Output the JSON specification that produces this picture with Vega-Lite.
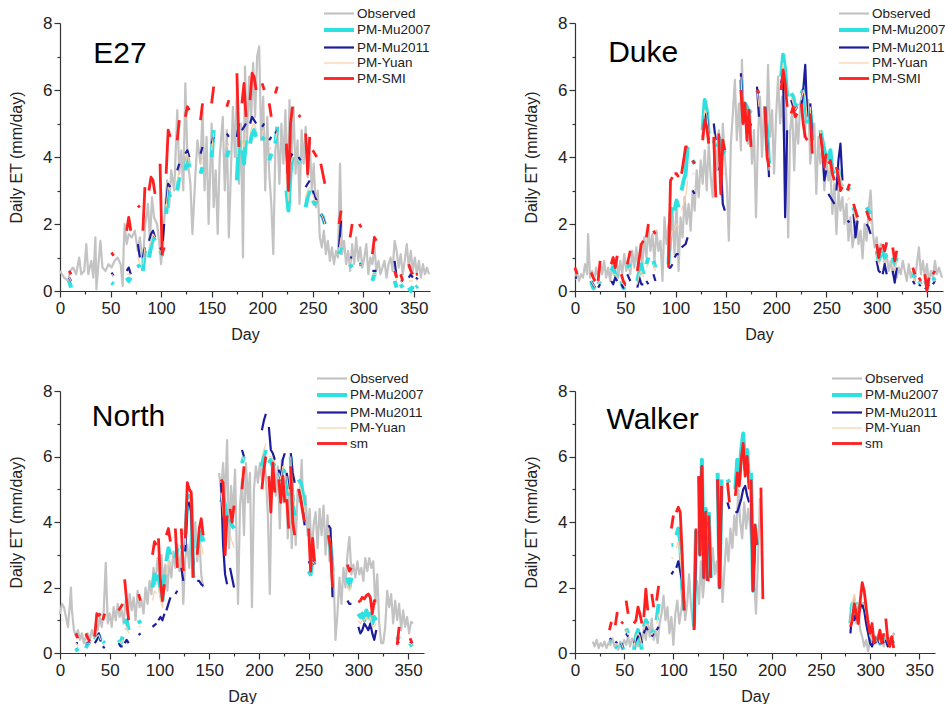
{
"$schema": "https://vega.github.io/schema/vega-lite/v6.json",
"background": "white",
"padding": {"left": 8, "top": 4, "right": 0, "bottom": 0},
"columns": 2,
"spacing": {"row": 27, "column": 92},
"config": {
  "view": {"stroke": null},
  "font": "Liberation Sans",
  "axis": {"grid": false, "domainColor": "#333333", "tickColor": "#333333", "labelColor": "#222222", "titleColor": "#222222", "labelFont": "Liberation Sans", "titleFont": "Liberation Sans", "labelFontSize": 17, "titleFontSize": 16, "titleFontWeight": "normal", "tickSize": 6, "domainWidth": 1.2, "tickWidth": 1.2},
  "axisX": {"labelPadding": 3, "titlePadding": 10, "labelFlush": false},
  "axisY": {"labelPadding": 2, "titlePadding": 18},
  "legend": {"symbolType": "M-1,0H3", "symbolSize": 225, "labelFontSize": 13.5, "labelFont": "Liberation Sans", "labelColor": "#222222", "labelOffset": 16, "padding": 0, "rowPadding": 0}
},
"resolve": {"scale": {"color": "independent", "strokeWidth": "independent"}, "legend": {"color": "independent", "strokeWidth": "independent"}},
"concat": [
{
 "width": 370, "height": 268,
 "resolve": {"axis": {"x": "independent", "y": "independent"}},
 "layer": [
  {
   "data": {"values": [{"d":0,"o":0.6},{"d":2,"o":0.5},{"d":4,"o":0.4},{"d":6,"o":0.35},{"d":8,"o":0.3},{"d":10,"o":0.6},{"d":13,"o":0.7},{"d":16,"o":0.5},{"d":19,"o":1.0},{"d":21,"o":0.5},{"d":24,"o":0.6},{"d":26,"o":1.4},{"d":28,"o":0.5},{"d":31,"o":0.9},{"d":33,"o":0.4},{"d":35,"o":1.6},{"d":36,"o":0.05},{"d":38,"o":0.8},{"d":40,"o":1.5},{"d":42,"o":0.7},{"d":45,"o":0.6},{"d":48,"o":0.8},{"d":51,"o":0.7},{"d":54,"o":0.9},{"d":57,"o":1.0},{"d":60,"o":0.8},{"d":62,"o":0.15},{"d":63,"o":1.3},{"d":64,"o":2.0},{"d":66,"o":1.4},{"d":68,"o":1.7},{"d":71,"o":1.6},{"d":74,"o":1.8},{"d":77,"o":1.2},{"d":79,"o":1.6},{"d":82,"o":0.8},{"d":84,"o":1.9},{"d":87,"o":2.6},{"d":89,"o":1.5},{"d":91,"o":2.8},{"d":93,"o":2.2},{"d":96,"o":2.0},{"d":98,"o":1.5},{"d":100,"o":0.8},{"d":102,"o":1.6},{"d":104,"o":2.5},{"d":106,"o":3.3},{"d":108,"o":2.5},{"d":110,"o":3.6},{"d":113,"o":3.0},{"d":116,"o":5.4},{"d":118,"o":3.5},{"d":120,"o":4.2},{"d":122,"o":3.0},{"d":124,"o":6.2},{"d":126,"o":4.0},{"d":129,"o":3.2},{"d":131,"o":1.7},{"d":134,"o":3.5},{"d":136,"o":4.5},{"d":139,"o":3.8},{"d":141,"o":5.4},{"d":143,"o":3.0},{"d":145,"o":4.6},{"d":147,"o":2.0},{"d":150,"o":5.0},{"d":152,"o":2.5},{"d":154,"o":3.6},{"d":156,"o":1.7},{"d":158,"o":4.0},{"d":161,"o":5.2},{"d":163,"o":3.0},{"d":165,"o":4.8},{"d":167,"o":1.6},{"d":169,"o":3.5},{"d":171,"o":5.5},{"d":173,"o":4.0},{"d":175,"o":6.0},{"d":177,"o":3.2},{"d":179,"o":5.0},{"d":181,"o":1.0},{"d":183,"o":6.7},{"d":185,"o":4.5},{"d":187,"o":6.4},{"d":189,"o":5.0},{"d":191,"o":6.8},{"d":193,"o":5.2},{"d":195,"o":7.0},{"d":197,"o":7.3},{"d":199,"o":4.5},{"d":201,"o":5.8},{"d":203,"o":3.0},{"d":205,"o":5.2},{"d":207,"o":3.5},{"d":209,"o":2.6},{"d":211,"o":1.1},{"d":213,"o":4.2},{"d":215,"o":4.8},{"d":217,"o":3.2},{"d":219,"o":5.0},{"d":221,"o":3.8},{"d":223,"o":5.4},{"d":225,"o":2.8},{"d":227,"o":5.7},{"d":229,"o":4.0},{"d":231,"o":5.5},{"d":233,"o":3.5},{"d":235,"o":4.5},{"d":237,"o":2.6},{"d":239,"o":4.8},{"d":241,"o":3.8},{"d":243,"o":4.9},{"d":245,"o":3.4},{"d":247,"o":4.5},{"d":249,"o":3.0},{"d":251,"o":3.8},{"d":253,"o":2.5},{"d":255,"o":3.0},{"d":257,"o":1.6},{"d":259,"o":1.3},{"d":261,"o":1.8},{"d":263,"o":1.1},{"d":265,"o":1.5},{"d":267,"o":0.9},{"d":269,"o":1.3},{"d":271,"o":0.8},{"d":273,"o":1.2},{"d":275,"o":1.0},{"d":277,"o":3.8},{"d":279,"o":1.1},{"d":281,"o":1.5},{"d":283,"o":0.8},{"d":285,"o":1.2},{"d":287,"o":0.6},{"d":289,"o":1.4},{"d":291,"o":0.8},{"d":293,"o":1.6},{"d":295,"o":0.9},{"d":297,"o":1.3},{"d":299,"o":0.7},{"d":301,"o":1.0},{"d":303,"o":1.4},{"d":305,"o":0.5},{"d":307,"o":1.0},{"d":309,"o":0.8},{"d":311,"o":1.3},{"d":313,"o":0.6},{"d":315,"o":0.9},{"d":317,"o":0.5},{"d":319,"o":0.7},{"d":321,"o":0.9},{"d":323,"o":0.4},{"d":325,"o":0.8},{"d":327,"o":1.0},{"d":329,"o":0.6},{"d":331,"o":1.5},{"d":333,"o":1.2},{"d":335,"o":0.7},{"d":337,"o":1.1},{"d":339,"o":0.5},{"d":341,"o":0.9},{"d":343,"o":1.4},{"d":345,"o":0.7},{"d":347,"o":1.2},{"d":349,"o":0.6},{"d":351,"o":1.0},{"d":353,"o":0.5},{"d":355,"o":0.9},{"d":357,"o":0.4},{"d":359,"o":0.8},{"d":361,"o":0.5},{"d":363,"o":0.7},{"d":365,"o":0.5}]},
   "mark": {"type": "line", "strokeJoin": "round", "invalid": "break-paths-show-domains"},
   "encoding": {
    "x": {"field": "d", "type": "quantitative", "scale": {"domain": [0, 366], "nice": false}, "axis": {"title": "Day", "orient": "bottom", "values": [0,50,100,150,200,250,300,350]}},
    "y": {"field": "o", "type": "quantitative", "scale": {"domain": [0, 8], "nice": false}, "axis": {"title": "Daily ET (mm/day)", "orient": "left", "values": [0,2,4,6,8]}},
    "color": {"datum": "o", "type": "nominal", "scale": {"domain": ["o","a","b","c","s"], "range": ["#c3c3c3","#2fe0e0","#1c1c9c","#f8cfa8","#ff1f1f"]}, "legend": {"title": null, "orient": "none", "legendX": 262, "legendY": -18.5, "labelExpr": "{'o':'Observed','a':'PM-Mu2007','b':'PM-Mu2011','c':'PM-Yuan','s':'PM-SMI'}[datum.value]"}},
    "strokeWidth": {"datum": "o", "type": "nominal", "scale": {"type": "ordinal", "domain": ["o","a","b","c","s"], "range": [2.2, 4, 2.2, 1.2, 2.8]}, "legend": {"title": null, "orient": "none", "legendX": 262, "legendY": -18.5, "labelExpr": "{'o':'Observed','a':'PM-Mu2007','b':'PM-Mu2011','c':'PM-Yuan','s':'PM-SMI'}[datum.value]"}}
   }
  },
  {
   "data": {"values": [
    {"g":1,"d":9,"a":0.3,"b":0.4,"c":0.4,"s":0.6},{"g":1,"d":11,"a":0.1,"b":0.3,"c":0.3,"s":0.5},
    {"g":2,"d":51,"a":0.25,"b":0.55,"c":0.5,"s":1.15},{"g":2,"d":53,"a":0.2,"b":0.45,"c":0.45,"s":1.05},
    {"g":3,"d":66,"a":0.4,"b":0.6,"c":0.5,"s":1.8},{"g":3,"d":68,"a":0.3,"b":0.7,"c":0.5,"s":2.2},{"g":3,"d":70,"a":0.4,"b":0.5,"c":0.5,"s":1.8},
    {"g":4,"d":77,"a":0.8,"b":1.4,"c":1.0,"s":2.55},{"g":4,"d":79,"a":0.7,"b":1.0,"c":0.8,"s":2.5},
    {"g":5,"d":82,"a":0.6,"b":1.0,"c":0.8,"s":1.8},{"g":5,"d":84,"a":1.2,"b":1.3,"c":1.3,"s":3.1},
    {"g":6,"d":88,"a":1.0,"b":1.5,"c":1.3,"s":3.0},{"g":6,"d":90,"a":1.3,"b":1.7,"c":1.5,"s":3.4},{"g":6,"d":92,"a":1.6,"b":1.8,"c":1.7,"s":3.3},{"g":6,"d":94,"a":1.5,"b":1.6,"c":1.6,"s":2.9},
    {"g":7,"d":99,"a":1.2,"b":1.3,"c":1.2,"s":3.8},{"g":7,"d":101,"a":1.1,"b":1.2,"c":1.1,"s":1.1},{"g":7,"d":103,"a":1.1,"b":2.0,"c":1.5,"s":1.3},
    {"g":8,"d":105,"a":2.3,"b":2.6,"c":2.5,"s":3.5},{"g":8,"d":107,"a":3.0,"b":3.2,"c":3.1,"s":4.8},{"g":8,"d":109,"a":2.8,"b":3.1,"c":3.0,"s":4.6},
    {"g":9,"d":116,"a":3.0,"b":3.6,"c":3.3,"s":4.5},{"g":9,"d":118,"a":3.4,"b":3.8,"c":3.6,"s":5.1},
    {"g":10,"d":124,"a":3.6,"b":4.1,"c":3.8,"s":5.2},{"g":10,"d":126,"a":4.0,"b":4.2,"c":4.1,"s":5.5},{"g":10,"d":128,"a":3.7,"b":4.0,"c":3.8,"s":5.4},
    {"g":11,"d":139,"a":3.5,"b":4.1,"c":3.8,"s":5.1},{"g":11,"d":141,"a":3.7,"b":4.3,"c":4.0,"s":5.6},
    {"g":12,"d":150,"a":4.0,"b":4.4,"c":4.2,"s":5.6},{"g":12,"d":152,"a":4.8,"b":4.6,"c":4.7,"s":6.1},
    {"g":13,"d":165,"a":4.0,"b":4.7,"c":4.3,"s":5.5},{"g":13,"d":167,"a":4.2,"b":4.6,"c":4.4,"s":5.7},
    {"g":14,"d":175,"a":3.3,"b":4.6,"c":4.0,"s":6.5},{"g":14,"d":177,"a":4.5,"b":5.0,"c":4.7,"s":4.3},
    {"g":15,"d":180,"a":4.2,"b":4.8,"c":4.5,"s":5.6},{"g":15,"d":182,"a":3.8,"b":4.9,"c":4.3,"s":6.2},{"g":15,"d":184,"a":4.5,"b":5.0,"c":4.7,"s":5.2},
    {"g":16,"d":188,"a":4.4,"b":5.0,"c":4.7,"s":5.7},{"g":16,"d":190,"a":4.7,"b":5.2,"c":4.9,"s":6.5},{"g":16,"d":192,"a":4.8,"b":5.1,"c":5.0,"s":6.4},{"g":16,"d":194,"a":4.6,"b":5.0,"c":4.8,"s":6.0},
    {"g":17,"d":200,"a":4.5,"b":4.9,"c":4.7,"s":6.2},{"g":17,"d":202,"a":4.6,"b":5.0,"c":4.8,"s":6.0},
    {"g":18,"d":207,"a":3.9,"b":4.5,"c":4.2,"s":5.6},{"g":18,"d":209,"a":4.1,"b":4.6,"c":4.3,"s":5.2},
    {"g":19,"d":213,"a":4.4,"b":4.7,"c":4.5,"s":5.9},{"g":19,"d":215,"a":4.9,"b":4.8,"c":4.8,"s":6.1},
    {"g":20,"d":224,"a":3.0,"b":4.3,"c":3.5,"s":4.4},{"g":20,"d":226,"a":2.4,"b":3.0,"c":2.7,"s":3.0},{"g":20,"d":228,"a":3.5,"b":4.0,"c":3.8,"s":5.0},{"g":20,"d":230,"a":4.0,"b":4.1,"c":4.0,"s":5.5},
    {"g":21,"d":236,"a":3.9,"b":4.0,"c":3.9,"s":5.25},{"g":21,"d":238,"a":3.8,"b":3.9,"c":3.8,"s":5.2},
    {"g":22,"d":243,"a":2.5,"b":3.1,"c":2.8,"s":4.7},{"g":22,"d":245,"a":2.8,"b":3.2,"c":3.0,"s":3.5},{"g":22,"d":247,"a":3.0,"b":3.3,"c":3.1,"s":4.6},
    {"g":23,"d":250,"a":2.7,"b":3.0,"c":2.9,"s":4.2},{"g":23,"d":252,"a":2.6,"b":2.8,"c":2.7,"s":4.1},{"g":23,"d":254,"a":2.7,"b":2.7,"c":2.7,"s":4.0},
    {"g":24,"d":258,"a":2.3,"b":2.3,"c":2.3,"s":3.8},{"g":24,"d":260,"a":2.2,"b":2.2,"c":2.2,"s":3.5},{"g":24,"d":262,"a":2.0,"b":2.0,"c":2.0,"s":3.2},
    {"g":25,"d":276,"a":1.1,"b":1.3,"c":1.2,"s":2.0},{"g":25,"d":278,"a":1.3,"b":2.1,"c":1.6,"s":2.4},
    {"g":26,"d":287,"a":0.8,"b":1.0,"c":0.9,"s":1.6},{"g":26,"d":289,"a":0.7,"b":1.0,"c":0.8,"s":2.0},
    {"g":27,"d":296,"a":0.8,"b":0.8,"c":0.8,"s":2.0},{"g":27,"d":298,"a":0.8,"b":0.8,"c":0.8,"s":1.9},
    {"g":28,"d":309,"a":0.3,"b":0.6,"c":0.5,"s":1.1},{"g":28,"d":311,"a":0.5,"b":0.6,"c":0.5,"s":1.6},{"g":28,"d":313,"a":0.5,"b":0.6,"c":0.5,"s":1.5},
    {"g":29,"d":331,"a":0.3,"b":0.9,"c":0.5,"s":0.6},{"g":29,"d":333,"a":0.1,"b":0.4,"c":0.3,"s":0.4},
    {"g":30,"d":337,"a":0.2,"b":0.3,"c":0.3,"s":0.5},{"g":30,"d":339,"a":0.1,"b":0.3,"c":0.2,"s":0.3},
    {"g":31,"d":345,"a":0.1,"b":0.4,"c":0.3,"s":0.8},{"g":31,"d":347,"a":0.0,"b":0.5,"c":0.3,"s":0.6},{"g":31,"d":349,"a":0.15,"b":0.4,"c":0.3,"s":0.5},
    {"g":32,"d":352,"a":0.1,"b":0.4,"c":0.3,"s":0.5},{"g":32,"d":354,"a":0.15,"b":0.35,"c":0.3,"s":0.5}
   ]},
   "transform": [{"fold": ["a","b","c","s"], "as": ["k","v"]}],
   "mark": {"type": "line", "strokeJoin": "round", "invalid": "break-paths-show-domains"},
   "encoding": {
    "x": {"field": "d", "type": "quantitative", "axis": null},
    "y": {"field": "v", "type": "quantitative", "axis": null},
    "detail": {"field": "g", "type": "nominal"},
    "color": {"field": "k", "type": "nominal", "scale": {"domain": ["o","a","b","c","s"], "range": ["#c3c3c3","#2fe0e0","#1c1c9c","#f8cfa8","#ff1f1f"]}, "legend": {"title": null, "orient": "none", "legendX": 262, "legendY": -18.5, "labelExpr": "{'o':'Observed','a':'PM-Mu2007','b':'PM-Mu2011','c':'PM-Yuan','s':'PM-SMI'}[datum.value]"}},
    "strokeWidth": {"field": "k", "type": "nominal", "scale": {"type": "ordinal", "domain": ["o","a","b","c","s"], "range": [2.2, 4, 2.2, 1.2, 2.8]}, "legend": {"title": null, "orient": "none", "legendX": 262, "legendY": -18.5, "labelExpr": "{'o':'Observed','a':'PM-Mu2007','b':'PM-Mu2011','c':'PM-Yuan','s':'PM-SMI'}[datum.value]"}}
   }
  },
  {
   "data": {"values": [{"t": "E27", "x": 33, "y": 6.8}]},
   "mark": {"type": "text", "align": "left", "baseline": "alphabetic", "fontSize": 30, "font": "Liberation Sans", "color": "#000000"},
   "encoding": {
    "x": {"field": "x", "type": "quantitative", "axis": {"orient": "bottom", "values": [25,75,125,175,225,275,325], "labels": false, "domain": false, "title": null, "tickSize": 3}},
    "y": {"field": "y", "type": "quantitative", "axis": {"orient": "left", "values": [1,3,5,7], "labels": false, "domain": false, "title": null, "tickSize": 3}},
    "text": {"field": "t"}
   }
  }
 ]
},
{
 "width": 368, "height": 268,
 "resolve": {"axis": {"x": "independent", "y": "independent"}},
 "layer": [
  {
   "data": {"values": [{"d":0,"o":0.35},{"d":2,"o":0.6},{"d":4,"o":0.3},{"d":6,"o":0.5},{"d":8,"o":0.4},{"d":10,"o":0.8},{"d":12,"o":0.5},{"d":13,"o":1.7},{"d":15,"o":0.4},{"d":17,"o":0.6},{"d":19,"o":0.3},{"d":21,"o":0.7},{"d":23,"o":0.4},{"d":25,"o":0.8},{"d":27,"o":0.5},{"d":29,"o":0.9},{"d":31,"o":0.4},{"d":33,"o":0.7},{"d":35,"o":0.3},{"d":37,"o":0.8},{"d":39,"o":0.5},{"d":41,"o":1.0},{"d":43,"o":0.4},{"d":45,"o":0.9},{"d":47,"o":0.5},{"d":49,"o":1.1},{"d":51,"o":0.6},{"d":53,"o":0.9},{"d":55,"o":0.5},{"d":57,"o":1.2},{"d":59,"o":0.7},{"d":61,"o":1.3},{"d":63,"o":0.6},{"d":65,"o":1.4},{"d":67,"o":0.8},{"d":69,"o":1.6},{"d":71,"o":1.0},{"d":73,"o":1.9},{"d":75,"o":1.2},{"d":77,"o":1.7},{"d":79,"o":0.9},{"d":81,"o":1.8},{"d":83,"o":1.2},{"d":85,"o":1.5},{"d":87,"o":0.3},{"d":89,"o":2.2},{"d":91,"o":1.4},{"d":93,"o":2.0},{"d":95,"o":1.2},{"d":97,"o":2.4},{"d":99,"o":1.1},{"d":101,"o":2.6},{"d":103,"o":0.6},{"d":105,"o":2.2},{"d":107,"o":1.6},{"d":109,"o":2.8},{"d":111,"o":2.0},{"d":113,"o":2.6},{"d":115,"o":1.8},{"d":117,"o":3.0},{"d":119,"o":2.4},{"d":121,"o":3.6},{"d":123,"o":2.8},{"d":125,"o":3.9},{"d":127,"o":3.2},{"d":129,"o":4.2},{"d":131,"o":3.0},{"d":133,"o":4.4},{"d":135,"o":3.4},{"d":137,"o":2.8},{"d":139,"o":4.5},{"d":141,"o":3.6},{"d":143,"o":4.8},{"d":145,"o":3.0},{"d":147,"o":5.0},{"d":149,"o":4.0},{"d":151,"o":3.2},{"d":153,"o":1.5},{"d":155,"o":4.4},{"d":157,"o":5.3},{"d":159,"o":6.3},{"d":161,"o":4.5},{"d":163,"o":5.6},{"d":165,"o":4.2},{"d":166,"o":6.9},{"d":168,"o":5.0},{"d":170,"o":5.6},{"d":172,"o":4.4},{"d":174,"o":5.4},{"d":176,"o":3.8},{"d":178,"o":4.8},{"d":180,"o":2.2},{"d":182,"o":4.6},{"d":184,"o":5.8},{"d":186,"o":4.0},{"d":188,"o":5.5},{"d":190,"o":4.2},{"d":192,"o":6.75},{"d":194,"o":4.6},{"d":196,"o":5.4},{"d":198,"o":3.5},{"d":200,"o":5.2},{"d":202,"o":6.4},{"d":204,"o":5.0},{"d":206,"o":5.8},{"d":208,"o":4.4},{"d":210,"o":5.5},{"d":212,"o":1.6},{"d":214,"o":4.8},{"d":216,"o":5.4},{"d":218,"o":3.6},{"d":220,"o":5.2},{"d":222,"o":4.4},{"d":224,"o":5.6},{"d":226,"o":5.9},{"d":228,"o":4.6},{"d":230,"o":5.2},{"d":232,"o":5.7},{"d":234,"o":3.8},{"d":236,"o":4.5},{"d":238,"o":5.0},{"d":240,"o":2.9},{"d":242,"o":4.6},{"d":244,"o":3.8},{"d":246,"o":4.2},{"d":248,"o":3.0},{"d":250,"o":4.0},{"d":252,"o":3.3},{"d":254,"o":3.6},{"d":256,"o":2.3},{"d":258,"o":3.2},{"d":260,"o":1.7},{"d":262,"o":3.0},{"d":264,"o":2.4},{"d":266,"o":2.8},{"d":268,"o":2.0},{"d":270,"o":2.6},{"d":272,"o":1.5},{"d":274,"o":2.2},{"d":276,"o":1.3},{"d":278,"o":1.7},{"d":280,"o":2.2},{"d":282,"o":1.4},{"d":284,"o":1.8},{"d":286,"o":0.97},{"d":288,"o":2.0},{"d":290,"o":1.5},{"d":292,"o":2.4},{"d":294,"o":3.0},{"d":296,"o":1.8},{"d":298,"o":1.3},{"d":300,"o":1.6},{"d":302,"o":1.0},{"d":304,"o":1.4},{"d":306,"o":1.2},{"d":308,"o":0.8},{"d":310,"o":1.1},{"d":312,"o":0.6},{"d":314,"o":0.9},{"d":316,"o":0.5},{"d":318,"o":0.8},{"d":320,"o":0.4},{"d":322,"o":0.7},{"d":324,"o":0.5},{"d":326,"o":0.9},{"d":328,"o":0.6},{"d":330,"o":0.3},{"d":332,"o":0.8},{"d":334,"o":0.4},{"d":336,"o":0.6},{"d":338,"o":0.3},{"d":340,"o":0.8},{"d":342,"o":1.3},{"d":344,"o":0.5},{"d":346,"o":0.9},{"d":348,"o":0.4},{"d":350,"o":0.8},{"d":352,"o":0.3},{"d":354,"o":0.6},{"d":356,"o":0.4},{"d":358,"o":0.9},{"d":360,"o":0.5},{"d":362,"o":0.7},{"d":365,"o":0.4}]},
   "mark": {"type": "line", "strokeJoin": "round", "invalid": "break-paths-show-domains"},
   "encoding": {
    "x": {"field": "d", "type": "quantitative", "scale": {"domain": [0, 366], "nice": false}, "axis": {"title": "Day", "orient": "bottom", "values": [0,50,100,150,200,250,300,350]}},
    "y": {"field": "o", "type": "quantitative", "scale": {"domain": [0, 8], "nice": false}, "axis": {"title": "Daily ET (mm/day)", "orient": "left", "values": [0,2,4,6,8]}},
    "color": {"datum": "o", "type": "nominal", "scale": {"domain": ["o","a","b","c","s"], "range": ["#c3c3c3","#2fe0e0","#1c1c9c","#f8cfa8","#ff1f1f"]}, "legend": {"title": null, "orient": "none", "legendX": 262, "legendY": -18.5, "labelExpr": "{'o':'Observed','a':'PM-Mu2007','b':'PM-Mu2011','c':'PM-Yuan','s':'PM-SMI'}[datum.value]"}},
    "strokeWidth": {"datum": "o", "type": "nominal", "scale": {"type": "ordinal", "domain": ["o","a","b","c","s"], "range": [2.2, 4, 2.2, 1.2, 2.8]}, "legend": {"title": null, "orient": "none", "legendX": 262, "legendY": -18.5, "labelExpr": "{'o':'Observed','a':'PM-Mu2007','b':'PM-Mu2011','c':'PM-Yuan','s':'PM-SMI'}[datum.value]"}}
   }
  },
  {
   "data": {"values": [
    {"g":1,"d":0,"a":0.5,"b":0.4,"c":0.5,"s":0.7},{"g":1,"d":2,"a":0.5,"b":0.4,"c":0.5,"s":0.5},
    {"g":2,"d":16,"a":0.3,"b":0.3,"c":0.3,"s":0.55},{"g":2,"d":18,"a":0.1,"b":0.2,"c":0.2,"s":0.4},{"g":2,"d":20,"a":0.05,"b":0.1,"c":0.1,"s":0.3},
    {"g":3,"d":23,"a":0.2,"b":0.1,"c":0.2,"s":0.3},{"g":3,"d":25,"a":0.3,"b":0.2,"c":0.3,"s":0.9},
    {"g":4,"d":36,"a":0.6,"b":0.3,"c":0.5,"s":0.8},{"g":4,"d":38,"a":0.7,"b":0.2,"c":0.5,"s":1.0},{"g":4,"d":40,"a":0.5,"b":0.4,"c":0.5,"s":0.7},{"g":4,"d":42,"a":0.4,"b":0.3,"c":0.4,"s":1.05},
    {"g":5,"d":46,"a":0.3,"b":0.2,"c":0.3,"s":0.5},{"g":5,"d":48,"a":0.1,"b":0.1,"c":0.2,"s":0.3},{"g":5,"d":50,"a":0.05,"b":0.2,"c":0.1,"s":0.2},
    {"g":6,"d":52,"a":0.7,"b":0.5,"c":0.6,"s":0.8},{"g":6,"d":55,"a":0.8,"b":0.3,"c":0.7,"s":1.2},
    {"g":7,"d":62,"a":0.3,"b":0.1,"c":0.2,"s":0.6},{"g":7,"d":64,"a":0.6,"b":0.4,"c":0.5,"s":1.0},{"g":7,"d":66,"a":0.8,"b":0.2,"c":0.6,"s":1.4},{"g":7,"d":68,"a":0.5,"b":0.2,"c":0.4,"s":1.5},
    {"g":8,"d":71,"a":0.8,"b":0.3,"c":0.7,"s":1.6},{"g":8,"d":73,"a":1.0,"b":0.2,"c":0.8,"s":2.0},
    {"g":9,"d":78,"a":0.9,"b":0.5,"c":0.8,"s":1.8},{"g":9,"d":80,"a":0.7,"b":0.3,"c":0.6,"s":1.7},
    {"g":10,"d":93,"a":0.8,"b":0.7,"c":0.8,"s":0.7},{"g":10,"d":95,"a":2.3,"b":0.7,"c":1.6,"s":3.3},{"g":10,"d":97,"a":2.5,"b":0.8,"c":1.8,"s":3.4},
    {"g":11,"d":99,"a":2.4,"b":1.0,"c":1.8,"s":3.5},{"g":11,"d":101,"a":2.7,"b":1.1,"c":2.0,"s":3.5},{"g":11,"d":103,"a":2.5,"b":1.1,"c":1.9,"s":3.4},
    {"g":12,"d":106,"a":3.0,"b":1.3,"c":2.4,"s":3.5},{"g":12,"d":108,"a":3.3,"b":1.35,"c":2.6,"s":3.9},{"g":12,"d":110,"a":3.5,"b":1.4,"c":2.8,"s":4.3},{"g":12,"d":112,"a":4.3,"b":1.6,"c":3.3,"s":4.3},
    {"g":13,"d":117,"a":3.9,"b":3.0,"c":3.5,"s":3.9},{"g":13,"d":119,"a":3.8,"b":2.9,"c":3.5,"s":3.8},
    {"g":14,"d":127,"a":4.8,"b":4.6,"c":4.7,"s":4.5},{"g":14,"d":129,"a":5.7,"b":5.2,"c":5.4,"s":5.1},{"g":14,"d":131,"a":5.4,"b":5.3,"c":5.3,"s":4.9},{"g":14,"d":133,"a":4.7,"b":4.5,"c":4.6,"s":4.4},
    {"g":15,"d":138,"a":4.5,"b":5.0,"c":4.7,"s":4.6},{"g":15,"d":140,"a":4.3,"b":4.5,"c":4.4,"s":2.8},
    {"g":16,"d":143,"a":4.6,"b":3.6,"c":4.2,"s":4.7},{"g":16,"d":145,"a":4.4,"b":3.8,"c":4.2,"s":2.9},{"g":16,"d":147,"a":4.1,"b":2.6,"c":3.5,"s":4.5},{"g":16,"d":149,"a":4.2,"b":2.4,"c":3.5,"s":4.2},
    {"g":17,"d":165,"a":6.3,"b":6.5,"c":6.4,"s":6.0},{"g":17,"d":167,"a":5.4,"b":5.2,"c":5.3,"s":5.0},{"g":17,"d":169,"a":5.6,"b":5.3,"c":5.5,"s":5.6},{"g":17,"d":171,"a":5.5,"b":5.0,"c":5.2,"s":4.5},{"g":17,"d":173,"a":5.3,"b":4.8,"c":5.1,"s":5.4},{"g":17,"d":175,"a":5.4,"b":5.0,"c":5.2,"s":4.3},
    {"g":18,"d":181,"a":6.0,"b":6.1,"c":6.0,"s":6.0},{"g":18,"d":183,"a":5.9,"b":5.2,"c":5.5,"s":5.9},
    {"g":19,"d":189,"a":5.5,"b":5.5,"c":5.5,"s":5.5},{"g":19,"d":191,"a":4.8,"b":4.5,"c":4.6,"s":4.0},{"g":19,"d":193,"a":3.8,"b":3.4,"c":3.6,"s":3.7},
    {"g":20,"d":205,"a":6.4,"b":6.2,"c":6.3,"s":6.0},{"g":20,"d":207,"a":7.05,"b":6.5,"c":6.8,"s":6.6},{"g":20,"d":209,"a":6.6,"b":2.2,"c":6.2,"s":6.2},{"g":20,"d":211,"a":5.8,"b":4.8,"c":5.5,"s":5.5},
    {"g":21,"d":215,"a":5.9,"b":5.7,"c":5.8,"s":5.3},{"g":21,"d":217,"a":5.8,"b":5.5,"c":5.6,"s":5.5},{"g":21,"d":219,"a":5.5,"b":5.4,"c":5.4,"s":5.2},{"g":21,"d":221,"a":5.6,"b":5.5,"c":5.5,"s":5.3},
    {"g":22,"d":225,"a":5.9,"b":5.5,"c":5.7,"s":5.6},{"g":22,"d":227,"a":6.0,"b":6.0,"c":6.0,"s":5.0},{"g":22,"d":229,"a":5.6,"b":6.75,"c":5.8,"s":4.6},{"g":22,"d":231,"a":5.0,"b":5.2,"c":5.1,"s":4.5},
    {"g":23,"d":234,"a":5.4,"b":5.6,"c":5.5,"s":5.3},{"g":23,"d":236,"a":4.6,"b":4.5,"c":4.5,"s":4.1},
    {"g":24,"d":244,"a":4.8,"b":4.7,"c":4.8,"s":4.7},{"g":24,"d":246,"a":4.5,"b":4.3,"c":4.4,"s":4.2},{"g":24,"d":248,"a":4.2,"b":3.3,"c":3.9,"s":3.7},{"g":24,"d":250,"a":4.0,"b":3.6,"c":3.8,"s":4.1},
    {"g":25,"d":252,"a":3.9,"b":2.9,"c":3.6,"s":3.8},{"g":25,"d":254,"a":4.2,"b":2.8,"c":3.8,"s":3.9},{"g":25,"d":256,"a":3.6,"b":2.7,"c":3.3,"s":3.5},{"g":25,"d":258,"a":3.5,"b":2.6,"c":3.2,"s":3.3},
    {"g":26,"d":260,"a":3.7,"b":3.0,"c":3.5,"s":3.7},{"g":26,"d":262,"a":3.6,"b":3.9,"c":3.6,"s":3.4},{"g":26,"d":264,"a":3.2,"b":4.4,"c":3.4,"s":3.0},{"g":26,"d":266,"a":3.1,"b":3.3,"c":3.1,"s":3.1},
    {"g":27,"d":271,"a":3.0,"b":2.1,"c":2.7,"s":3.0},{"g":27,"d":273,"a":3.1,"b":2.05,"c":2.8,"s":3.2},
    {"g":28,"d":277,"a":2.5,"b":2.3,"c":2.4,"s":2.6},{"g":28,"d":279,"a":2.3,"b":1.6,"c":2.1,"s":2.4},{"g":28,"d":281,"a":2.2,"b":2.1,"c":2.2,"s":2.2},
    {"g":29,"d":290,"a":2.5,"b":2.0,"c":2.3,"s":2.4},{"g":29,"d":292,"a":2.4,"b":1.9,"c":2.2,"s":2.2},{"g":29,"d":294,"a":2.3,"b":1.7,"c":2.0,"s":2.1},
    {"g":30,"d":300,"a":1.2,"b":0.9,"c":1.1,"s":1.4},{"g":30,"d":302,"a":0.9,"b":0.6,"c":0.8,"s":1.0},{"g":30,"d":304,"a":1.1,"b":0.55,"c":0.9,"s":1.3},
    {"g":31,"d":306,"a":1.2,"b":0.5,"c":0.9,"s":1.4},{"g":31,"d":308,"a":1.0,"b":0.8,"c":0.9,"s":1.2},{"g":31,"d":310,"a":1.1,"b":0.5,"c":0.9,"s":1.45},
    {"g":32,"d":316,"a":1.0,"b":0.6,"c":0.8,"s":1.3},{"g":32,"d":318,"a":0.8,"b":0.25,"c":0.6,"s":0.9},{"g":32,"d":320,"a":1.0,"b":0.7,"c":0.9,"s":1.2},
    {"g":33,"d":336,"a":0.5,"b":0.3,"c":0.4,"s":0.7},{"g":33,"d":338,"a":0.4,"b":0.2,"c":0.3,"s":0.5},
    {"g":34,"d":342,"a":0.3,"b":0.2,"c":0.3,"s":0.4},{"g":34,"d":344,"a":0.2,"b":0.15,"c":0.2,"s":0.3},
    {"g":35,"d":348,"a":0.3,"b":0.1,"c":0.2,"s":0.5},{"g":35,"d":350,"a":0.2,"b":0.05,"c":0.15,"s":0.0},{"g":35,"d":352,"a":0.3,"b":0.2,"c":0.3,"s":0.4},
    {"g":36,"d":356,"a":0.4,"b":0.2,"c":0.3,"s":0.5},{"g":36,"d":358,"a":0.3,"b":0.3,"c":0.3,"s":0.6}
   ]},
   "transform": [{"fold": ["a","b","c","s"], "as": ["k","v"]}],
   "mark": {"type": "line", "strokeJoin": "round", "invalid": "break-paths-show-domains"},
   "encoding": {
    "x": {"field": "d", "type": "quantitative", "axis": null},
    "y": {"field": "v", "type": "quantitative", "axis": null},
    "detail": {"field": "g", "type": "nominal"},
    "color": {"field": "k", "type": "nominal", "scale": {"domain": ["o","a","b","c","s"], "range": ["#c3c3c3","#2fe0e0","#1c1c9c","#f8cfa8","#ff1f1f"]}, "legend": {"title": null, "orient": "none", "legendX": 262, "legendY": -18.5, "labelExpr": "{'o':'Observed','a':'PM-Mu2007','b':'PM-Mu2011','c':'PM-Yuan','s':'PM-SMI'}[datum.value]"}},
    "strokeWidth": {"field": "k", "type": "nominal", "scale": {"type": "ordinal", "domain": ["o","a","b","c","s"], "range": [2.2, 4, 2.2, 1.2, 2.8]}, "legend": {"title": null, "orient": "none", "legendX": 262, "legendY": -18.5, "labelExpr": "{'o':'Observed','a':'PM-Mu2007','b':'PM-Mu2011','c':'PM-Yuan','s':'PM-SMI'}[datum.value]"}}
   }
  },
  {
   "data": {"values": [{"t": "Duke", "x": 33, "y": 6.85}]},
   "mark": {"type": "text", "align": "left", "baseline": "alphabetic", "fontSize": 30, "font": "Liberation Sans", "color": "#000000"},
   "encoding": {
    "x": {"field": "x", "type": "quantitative", "axis": {"orient": "bottom", "values": [25,75,125,175,225,275,325], "labels": false, "domain": false, "title": null, "tickSize": 3}},
    "y": {"field": "y", "type": "quantitative", "axis": {"orient": "left", "values": [1,3,5,7], "labels": false, "domain": false, "title": null, "tickSize": 3}},
    "text": {"field": "t"}
   }
  }
 ]
},
{
 "width": 364, "height": 262,
 "resolve": {"axis": {"x": "independent", "y": "independent"}},
 "layer": [
  {
   "data": {"values": [{"d":0,"o":1.2},{"d":2,"o":1.5},{"d":4,"o":1.4},{"d":6,"o":1.1},{"d":8,"o":0.8},{"d":10,"o":1.5},{"d":11,"o":2.0},{"d":12,"o":1.3},{"d":14,"o":0.7},{"d":16,"o":0.5},{"d":18,"o":0.7},{"d":20,"o":0.4},{"d":22,"o":0.6},{"d":24,"o":0.3},{"d":26,"o":0.5},{"d":28,"o":0.6},{"d":30,"o":0.4},{"d":32,"o":0.7},{"d":34,"o":0.5},{"d":36,"o":0.9},{"d":38,"o":0.7},{"d":40,"o":1.1},{"d":42,"o":0.8},{"d":44,"o":1.3},{"d":46,"o":2.75},{"d":48,"o":0.9},{"d":50,"o":1.2},{"d":52,"o":0.8},{"d":54,"o":1.4},{"d":56,"o":1.0},{"d":58,"o":1.5},{"d":60,"o":1.1},{"d":62,"o":1.3},{"d":64,"o":0.9},{"d":66,"o":1.6},{"d":68,"o":1.2},{"d":70,"o":1.8},{"d":72,"o":1.3},{"d":74,"o":1.7},{"d":76,"o":1.0},{"d":78,"o":1.9},{"d":80,"o":1.4},{"d":82,"o":1.6},{"d":84,"o":1.2},{"d":86,"o":2.0},{"d":88,"o":1.5},{"d":90,"o":2.2},{"d":92,"o":1.8},{"d":94,"o":2.6},{"d":96,"o":2.1},{"d":98,"o":2.9},{"d":100,"o":2.3},{"d":102,"o":3.0},{"d":104,"o":2.2},{"d":106,"o":2.7},{"d":108,"o":1.9},{"d":110,"o":2.8},{"d":112,"o":2.3},{"d":114,"o":3.1},{"d":116,"o":2.6},{"d":118,"o":3.3},{"d":120,"o":2.5},{"d":122,"o":3.1},{"d":124,"o":1.5},{"d":126,"o":2.9},{"d":128,"o":3.3},{"d":130,"o":2.6},{"d":132,"o":3.8},{"d":134,"o":3.0},{"d":136,"o":4.0},{"d":138,"o":2.8},{"d":140,"o":3.6},{"d":142,"o":2.4},{"d":144,"o":2.0},{"d":152,"o":null},{"d":160,"o":5.5},{"d":162,"o":4.9},{"d":164,"o":5.8},{"d":166,"o":4.6},{"d":168,"o":6.5},{"d":170,"o":3.2},{"d":172,"o":5.1},{"d":174,"o":4.2},{"d":176,"o":5.6},{"d":178,"o":2.8},{"d":179,"o":1.5},{"d":181,"o":4.5},{"d":183,"o":5.3},{"d":185,"o":3.6},{"d":187,"o":5.8},{"d":189,"o":4.6},{"d":191,"o":5.5},{"d":193,"o":1.4},{"d":195,"o":5.0},{"d":197,"o":5.7},{"d":199,"o":5.2},{"d":201,"o":5.8},{"d":203,"o":5.3},{"d":205,"o":6.0},{"d":207,"o":5.4},{"d":209,"o":4.2},{"d":211,"o":1.8},{"d":213,"o":5.6},{"d":215,"o":6.0},{"d":217,"o":4.8},{"d":219,"o":5.7},{"d":221,"o":3.8},{"d":223,"o":5.9},{"d":225,"o":4.6},{"d":227,"o":5.5},{"d":229,"o":3.5},{"d":231,"o":5.4},{"d":233,"o":3.2},{"d":235,"o":4.8},{"d":237,"o":3.3},{"d":239,"o":5.0},{"d":241,"o":4.6},{"d":243,"o":5.9},{"d":245,"o":4.0},{"d":247,"o":4.8},{"d":249,"o":3.6},{"d":251,"o":4.4},{"d":253,"o":3.0},{"d":255,"o":3.9},{"d":257,"o":4.3},{"d":259,"o":3.2},{"d":261,"o":4.4},{"d":263,"o":3.6},{"d":265,"o":4.5},{"d":267,"o":3.0},{"d":269,"o":4.2},{"d":271,"o":2.8},{"d":273,"o":3.4},{"d":275,"o":2.5},{"d":277,"o":0.4},{"d":279,"o":1.2},{"d":281,"o":2.3},{"d":283,"o":1.5},{"d":285,"o":2.6},{"d":287,"o":2.0},{"d":289,"o":3.0},{"d":291,"o":3.55},{"d":293,"o":2.4},{"d":295,"o":2.7},{"d":297,"o":2.3},{"d":299,"o":2.8},{"d":301,"o":2.4},{"d":303,"o":2.6},{"d":305,"o":2.2},{"d":307,"o":2.9},{"d":309,"o":2.5},{"d":311,"o":2.9},{"d":313,"o":2.6},{"d":315,"o":2.8},{"d":317,"o":1.5},{"d":319,"o":2.4},{"d":321,"o":0.9},{"d":323,"o":0.3},{"d":325,"o":0.3},{"d":327,"o":0.8},{"d":329,"o":1.9},{"d":331,"o":1.4},{"d":333,"o":1.8},{"d":335,"o":0.9},{"d":337,"o":1.6},{"d":339,"o":1.0},{"d":341,"o":1.5},{"d":343,"o":0.7},{"d":345,"o":1.3},{"d":347,"o":0.8},{"d":349,"o":1.1},{"d":351,"o":0.6},{"d":353,"o":0.95},{"d":355,"o":0.9}]},
   "mark": {"type": "line", "strokeJoin": "round", "invalid": "break-paths-show-domains"},
   "encoding": {
    "x": {"field": "d", "type": "quantitative", "scale": {"domain": [0, 366], "nice": false}, "axis": {"title": "Day", "orient": "bottom", "values": [0,50,100,150,200,250,300,350]}},
    "y": {"field": "o", "type": "quantitative", "scale": {"domain": [0, 8], "nice": false}, "axis": {"title": "Daily ET (mm/day)", "orient": "left", "values": [0,2,4,6,8]}},
    "color": {"datum": "o", "type": "nominal", "scale": {"domain": ["o","a","b","c","s"], "range": ["#c3c3c3","#2fe0e0","#1c1c9c","#f8cfa8","#ff1f1f"]}, "legend": {"title": null, "orient": "none", "legendX": 255, "legendY": -21.5, "labelExpr": "{'o':'Observed','a':'PM-Mu2007','b':'PM-Mu2011','c':'PM-Yuan','s':'sm'}[datum.value]"}},
    "strokeWidth": {"datum": "o", "type": "nominal", "scale": {"type": "ordinal", "domain": ["o","a","b","c","s"], "range": [2.2, 4, 2.2, 1.2, 2.8]}, "legend": {"title": null, "orient": "none", "legendX": 255, "legendY": -21.5, "labelExpr": "{'o':'Observed','a':'PM-Mu2007','b':'PM-Mu2011','c':'PM-Yuan','s':'sm'}[datum.value]"}}
   }
  },
  {
   "data": {"values": [
    {"g":1,"d":16,"a":0.15,"b":0.3,"c":0.3,"s":0.6},{"g":1,"d":18,"a":0.05,"b":0.3,"c":0.2,"s":0.45},
    {"g":2,"d":26,"a":0.15,"b":0.3,"c":0.3,"s":0.6},{"g":2,"d":28,"a":0.3,"b":0.3,"c":0.3,"s":0.45},{"g":2,"d":30,"a":0.25,"b":0.35,"c":0.3,"s":0.35},
    {"g":3,"d":35,"a":0.4,"b":0.3,"c":0.4,"s":0.5},{"g":3,"d":37,"a":0.5,"b":0.4,"c":0.5,"s":1.2},{"g":3,"d":39,"a":0.55,"b":0.6,"c":0.55,"s":1.15},{"g":3,"d":41,"a":0.4,"b":0.35,"c":0.4,"s":1.2},
    {"g":4,"d":43,"a":0.35,"b":0.2,"c":0.3,"s":1.0},{"g":4,"d":45,"a":0.3,"b":0.15,"c":0.25,"s":1.2},
    {"g":5,"d":59,"a":0.4,"b":0.3,"c":0.35,"s":1.3},{"g":5,"d":61,"a":0.3,"b":0.2,"c":0.3,"s":1.4},{"g":5,"d":63,"a":0.5,"b":0.2,"c":0.4,"s":1.5},
    {"g":6,"d":65,"a":0.9,"b":0.3,"c":0.7,"s":2.25},{"g":6,"d":67,"a":1.0,"b":0.4,"c":0.8,"s":1.6},{"g":6,"d":69,"a":0.7,"b":0.3,"c":0.6,"s":1.0},
    {"g":7,"d":79,"a":1.0,"b":0.55,"c":0.8,"s":1.8},{"g":7,"d":81,"a":0.9,"b":0.6,"c":0.8,"s":1.6},
    {"g":8,"d":93,"a":2.0,"b":0.8,"c":1.6,"s":3.0},{"g":8,"d":95,"a":2.4,"b":0.85,"c":1.9,"s":3.4},{"g":8,"d":97,"a":2.2,"b":0.9,"c":1.8,"s":3.3},
    {"g":9,"d":99,"a":2.4,"b":1.0,"c":2.0,"s":3.5},{"g":9,"d":101,"a":1.9,"b":1.1,"c":1.6,"s":2.2},{"g":9,"d":103,"a":1.6,"b":1.0,"c":1.4,"s":1.6},{"g":9,"d":105,"a":2.4,"b":1.2,"c":2.0,"s":2.1},
    {"g":10,"d":107,"a":2.8,"b":1.3,"c":2.4,"s":3.6},{"g":10,"d":109,"a":3.2,"b":1.5,"c":2.8,"s":3.8},{"g":10,"d":111,"a":3.0,"b":1.7,"c":2.6,"s":3.4},
    {"g":11,"d":116,"a":2.9,"b":1.8,"c":2.6,"s":3.8},{"g":11,"d":118,"a":3.2,"b":1.9,"c":2.8,"s":2.6},
    {"g":12,"d":122,"a":3.3,"b":2.6,"c":3.0,"s":3.8},{"g":12,"d":124,"a":3.1,"b":2.2,"c":2.8,"s":2.5},
    {"g":13,"d":126,"a":3.6,"b":3.1,"c":3.3,"s":3.5},{"g":13,"d":128,"a":4.6,"b":4.5,"c":4.6,"s":5.2},{"g":13,"d":130,"a":4.8,"b":4.6,"c":4.7,"s":5.0},{"g":13,"d":132,"a":4.7,"b":4.3,"c":4.5,"s":4.9},{"g":13,"d":134,"a":2.3,"b":2.7,"c":2.4,"s":2.3},
    {"g":14,"d":138,"a":3.2,"b":2.2,"c":2.9,"s":3.0},{"g":14,"d":140,"a":3.5,"b":2.2,"c":3.1,"s":3.8},{"g":14,"d":142,"a":3.7,"b":2.1,"c":3.3,"s":4.1},{"g":14,"d":144,"a":3.4,"b":2.05,"c":3.0,"s":3.6},
    {"g":15,"d":162,"a":4.6,"b":5.2,"c":4.9,"s":5.3},{"g":15,"d":164,"a":4.8,"b":3.3,"c":4.2,"s":5.2},{"g":15,"d":166,"a":4.5,"b":2.4,"c":3.8,"s":3.0},{"g":15,"d":168,"a":4.0,"b":2.1,"c":3.4,"s":4.2},
    {"g":16,"d":171,"a":4.1,"b":2.6,"c":3.6,"s":4.4},{"g":16,"d":173,"a":3.9,"b":2.3,"c":3.4,"s":4.0},{"g":16,"d":175,"a":3.8,"b":2.0,"c":3.2,"s":4.5},
    {"g":17,"d":183,"a":5.8,"b":6.2,"c":6.0,"s":5.0},{"g":17,"d":185,"a":6.0,"b":6.0,"c":5.9,"s":5.7},
    {"g":18,"d":203,"a":5.7,"b":6.8,"c":6.0,"s":5.0},{"g":18,"d":205,"a":6.0,"b":7.1,"c":6.2,"s":5.6},{"g":18,"d":207,"a":6.2,"b":7.3,"c":6.4,"s":6.0},
    {"g":19,"d":210,"a":5.8,"b":6.9,"c":6.0,"s":5.4},{"g":19,"d":212,"a":5.9,"b":6.2,"c":6.0,"s":4.3},{"g":19,"d":214,"a":5.7,"b":6.1,"c":5.9,"s":5.8},{"g":19,"d":216,"a":5.8,"b":5.9,"c":5.8,"s":4.9},
    {"g":20,"d":220,"a":5.5,"b":5.6,"c":5.5,"s":5.3},{"g":20,"d":222,"a":5.4,"b":5.3,"c":5.3,"s":4.6},{"g":20,"d":224,"a":5.6,"b":5.9,"c":5.7,"s":5.4},{"g":20,"d":226,"a":5.5,"b":6.1,"c":5.7,"s":4.6},
    {"g":21,"d":228,"a":5.3,"b":5.5,"c":5.4,"s":4.7},{"g":21,"d":230,"a":4.8,"b":5.0,"c":4.9,"s":3.8},
    {"g":22,"d":232,"a":6.0,"b":6.1,"c":6.0,"s":5.7},{"g":22,"d":234,"a":4.5,"b":5.5,"c":4.8,"s":4.0},{"g":22,"d":236,"a":4.2,"b":5.2,"c":4.5,"s":3.6},
    {"g":23,"d":240,"a":5.3,"b":5.0,"c":5.2,"s":5.0},{"g":23,"d":242,"a":5.2,"b":4.8,"c":5.0,"s":4.7},{"g":23,"d":244,"a":4.9,"b":4.4,"c":4.7,"s":4.3},{"g":23,"d":246,"a":4.5,"b":3.9,"c":4.3,"s":4.0},
    {"g":24,"d":250,"a":2.5,"b":2.8,"c":2.6,"s":3.8},{"g":24,"d":252,"a":2.4,"b":2.7,"c":2.6,"s":2.5},{"g":24,"d":254,"a":2.9,"b":2.8,"c":2.8,"s":3.5},{"g":24,"d":256,"a":2.7,"b":2.7,"c":2.7,"s":2.8},
    {"g":25,"d":270,"a":3.6,"b":3.9,"c":3.7,"s":3.6},{"g":25,"d":272,"a":3.2,"b":3.8,"c":3.4,"s":3.2},{"g":25,"d":274,"a":2.5,"b":1.7,"c":2.2,"s":2.0},
    {"g":26,"d":289,"a":2.3,"b":1.6,"c":2.1,"s":2.7},{"g":26,"d":291,"a":2.0,"b":1.5,"c":1.9,"s":2.5},{"g":26,"d":293,"a":2.3,"b":1.5,"c":2.1,"s":2.6},
    {"g":27,"d":300,"a":1.2,"b":0.8,"c":1.0,"s":1.55},{"g":27,"d":302,"a":1.1,"b":0.6,"c":0.9,"s":1.6},{"g":27,"d":304,"a":1.2,"b":0.7,"c":1.0,"s":1.7},{"g":27,"d":306,"a":1.0,"b":0.9,"c":1.0,"s":1.65},{"g":27,"d":308,"a":1.3,"b":0.8,"c":1.1,"s":1.75},{"g":27,"d":310,"a":1.1,"b":0.7,"c":1.0,"s":1.8},{"g":27,"d":312,"a":1.2,"b":0.9,"c":1.1,"s":1.7},{"g":27,"d":314,"a":0.9,"b":0.6,"c":0.8,"s":1.2},{"g":27,"d":316,"a":1.1,"b":0.4,"c":0.8,"s":1.6},{"g":27,"d":318,"a":1.0,"b":0.7,"c":0.9,"s":1.6},
    {"g":28,"d":339,"a":0.4,"b":0.3,"c":0.35,"s":0.25},{"g":28,"d":341,"a":0.5,"b":0.35,"c":0.45,"s":0.8},
    {"g":29,"d":352,"a":0.3,"b":0.35,"c":0.3,"s":0.45},{"g":29,"d":354,"a":0.2,"b":0.3,"c":0.25,"s":0.3}
   ]},
   "transform": [{"fold": ["a","b","c","s"], "as": ["k","v"]}],
   "mark": {"type": "line", "strokeJoin": "round", "invalid": "break-paths-show-domains"},
   "encoding": {
    "x": {"field": "d", "type": "quantitative", "axis": null},
    "y": {"field": "v", "type": "quantitative", "axis": null},
    "detail": {"field": "g", "type": "nominal"},
    "color": {"field": "k", "type": "nominal", "scale": {"domain": ["o","a","b","c","s"], "range": ["#c3c3c3","#2fe0e0","#1c1c9c","#f8cfa8","#ff1f1f"]}, "legend": {"title": null, "orient": "none", "legendX": 255, "legendY": -21.5, "labelExpr": "{'o':'Observed','a':'PM-Mu2007','b':'PM-Mu2011','c':'PM-Yuan','s':'sm'}[datum.value]"}},
    "strokeWidth": {"field": "k", "type": "nominal", "scale": {"type": "ordinal", "domain": ["o","a","b","c","s"], "range": [2.2, 4, 2.2, 1.2, 2.8]}, "legend": {"title": null, "orient": "none", "legendX": 255, "legendY": -21.5, "labelExpr": "{'o':'Observed','a':'PM-Mu2007','b':'PM-Mu2011','c':'PM-Yuan','s':'sm'}[datum.value]"}}
   }
  },
  {
   "data": {"values": [{"t": "North", "x": 32, "y": 6.92}]},
   "mark": {"type": "text", "align": "left", "baseline": "alphabetic", "fontSize": 30, "font": "Liberation Sans", "color": "#000000"},
   "encoding": {
    "x": {"field": "x", "type": "quantitative", "axis": {"orient": "bottom", "values": [25,75,125,175,225,275,325], "labels": false, "domain": false, "title": null, "tickSize": 3}},
    "y": {"field": "y", "type": "quantitative", "axis": {"orient": "left", "values": [1,3,5,7], "labels": false, "domain": false, "title": null, "tickSize": 3}},
    "text": {"field": "t"}
   }
  }
 ]
},
{
 "width": 360, "height": 262,
 "resolve": {"axis": {"x": "independent", "y": "independent"}},
 "layer": [
  {
   "data": {"values": [{"d":18,"o":0.35},{"d":20,"o":0.2},{"d":22,"o":0.4},{"d":24,"o":0.15},{"d":26,"o":0.3},{"d":28,"o":0.2},{"d":30,"o":0.35},{"d":32,"o":0.15},{"d":34,"o":0.3},{"d":36,"o":0.25},{"d":38,"o":0.45},{"d":40,"o":0.2},{"d":42,"o":0.3},{"d":44,"o":0.1},{"d":46,"o":0.35},{"d":48,"o":0.2},{"d":50,"o":0.4},{"d":52,"o":0.25},{"d":54,"o":0.5},{"d":56,"o":0.2},{"d":58,"o":0.45},{"d":60,"o":0.3},{"d":62,"o":0.6},{"d":64,"o":0.2},{"d":66,"o":0.5},{"d":68,"o":0.3},{"d":70,"o":0.75},{"d":72,"o":0.4},{"d":74,"o":0.95},{"d":76,"o":0.5},{"d":78,"o":1.05},{"d":80,"o":0.4},{"d":82,"o":0.7},{"d":84,"o":0.3},{"d":86,"o":0.9},{"d":88,"o":1.2},{"d":90,"o":1.75},{"d":92,"o":1.0},{"d":94,"o":1.4},{"d":96,"o":0.6},{"d":98,"o":1.1},{"d":100,"o":0.25},{"d":102,"o":1.2},{"d":104,"o":1.6},{"d":106,"o":0.9},{"d":108,"o":1.3},{"d":110,"o":1.8},{"d":112,"o":1.0},{"d":114,"o":1.5},{"d":116,"o":2.4},{"d":118,"o":1.4},{"d":120,"o":0.85},{"d":122,"o":1.8},{"d":124,"o":2.2},{"d":126,"o":1.5},{"d":128,"o":2.8},{"d":130,"o":1.7},{"d":132,"o":2.4},{"d":134,"o":3.0},{"d":136,"o":2.2},{"d":138,"o":2.6},{"d":140,"o":3.2},{"d":142,"o":2.4},{"d":144,"o":2.8},{"d":146,"o":2.0},{"d":148,"o":3.0},{"d":150,"o":1.55},{"d":152,"o":2.6},{"d":154,"o":3.5},{"d":156,"o":2.8},{"d":158,"o":3.8},{"d":160,"o":3.2},{"d":162,"o":4.2},{"d":164,"o":3.6},{"d":166,"o":5.0},{"d":168,"o":4.0},{"d":170,"o":3.5},{"d":172,"o":4.6},{"d":174,"o":3.8},{"d":176,"o":4.4},{"d":178,"o":3.9},{"d":180,"o":3.0},{"d":182,"o":2.4},{"d":184,"o":1.2},{"d":186,"o":2.8},{"d":188,"o":4.7},{"d":190,"o":3.8},{"d":235,"o":null},{"d":280,"o":1.4},{"d":282,"o":1.0},{"d":284,"o":1.7},{"d":286,"o":0.9},{"d":288,"o":1.3},{"d":290,"o":0.7},{"d":292,"o":0.5},{"d":294,"o":0.2},{"d":296,"o":0.4},{"d":298,"o":0.05},{"d":300,"o":0.4},{"d":302,"o":0.2},{"d":304,"o":0.5},{"d":306,"o":0.3},{"d":308,"o":0.55},{"d":310,"o":0.25},{"d":312,"o":0.4},{"d":314,"o":0.2},{"d":316,"o":0.5},{"d":318,"o":0.3},{"d":320,"o":0.45},{"d":322,"o":0.3},{"d":324,"o":0.6},{"d":325,"o":0.55}]},
   "mark": {"type": "line", "strokeJoin": "round", "invalid": "break-paths-show-domains"},
   "encoding": {
    "x": {"field": "d", "type": "quantitative", "scale": {"domain": [0, 366], "nice": false}, "axis": {"title": "Day", "orient": "bottom", "values": [0,50,100,150,200,250,300,350]}},
    "y": {"field": "o", "type": "quantitative", "scale": {"domain": [0, 8], "nice": false}, "axis": {"title": "Daily ET (mm/day)", "orient": "left", "values": [0,2,4,6,8]}},
    "color": {"datum": "o", "type": "nominal", "scale": {"domain": ["o","a","b","c","s"], "range": ["#c3c3c3","#2fe0e0","#1c1c9c","#f8cfa8","#ff1f1f"]}, "legend": {"title": null, "orient": "none", "legendX": 255, "legendY": -21.5, "labelExpr": "{'o':'Observed','a':'PM-Mu2007','b':'PM-Mu2011','c':'PM-Yuan','s':'sm'}[datum.value]"}},
    "strokeWidth": {"datum": "o", "type": "nominal", "scale": {"type": "ordinal", "domain": ["o","a","b","c","s"], "range": [2.2, 4, 2.2, 1.2, 2.8]}, "legend": {"title": null, "orient": "none", "legendX": 255, "legendY": -21.5, "labelExpr": "{'o':'Observed','a':'PM-Mu2007','b':'PM-Mu2011','c':'PM-Yuan','s':'sm'}[datum.value]"}}
   }
  },
  {
   "data": {"values": [
    {"g":1,"d":35,"a":0.4,"b":0.4,"c":0.4,"s":0.7},{"g":1,"d":37,"a":0.35,"b":0.45,"c":0.4,"s":0.95},
    {"g":2,"d":41,"a":0.2,"b":0.35,"c":0.3,"s":0.85},{"g":2,"d":43,"a":0.15,"b":0.3,"c":0.25,"s":1.25},
    {"g":3,"d":47,"a":0.3,"b":0.3,"c":0.3,"s":0.9},{"g":3,"d":49,"a":0.1,"b":0.15,"c":0.15,"s":0.95},
    {"g":4,"d":52,"a":0.75,"b":0.6,"c":0.7,"s":1.6},{"g":4,"d":54,"a":0.6,"b":0.5,"c":0.55,"s":1.2},
    {"g":5,"d":60,"a":0.1,"b":0.3,"c":0.2,"s":0.9},{"g":5,"d":62,"a":0.5,"b":0.4,"c":0.5,"s":1.0},{"g":5,"d":64,"a":0.7,"b":0.5,"c":0.6,"s":1.4},{"g":5,"d":66,"a":0.4,"b":0.6,"c":0.5,"s":1.2},{"g":5,"d":68,"a":0.1,"b":0.3,"c":0.2,"s":0.9},
    {"g":6,"d":70,"a":0.8,"b":0.6,"c":0.7,"s":1.1},{"g":6,"d":72,"a":1.0,"b":0.8,"c":0.9,"s":1.95},{"g":6,"d":74,"a":0.9,"b":0.7,"c":0.8,"s":1.3},
    {"g":7,"d":78,"a":0.6,"b":0.5,"c":0.55,"s":1.8},{"g":7,"d":80,"a":0.7,"b":0.6,"c":0.65,"s":1.4},
    {"g":8,"d":83,"a":1.0,"b":0.7,"c":0.9,"s":1.6},{"g":8,"d":85,"a":1.5,"b":0.8,"c":1.2,"s":2.05},
    {"g":9,"d":98,"a":3.3,"b":2.4,"c":2.9,"s":3.8},{"g":9,"d":100,"a":3.3,"b":2.5,"c":2.9,"s":4.2},
    {"g":10,"d":103,"a":3.6,"b":2.6,"c":3.2,"s":4.3},{"g":10,"d":105,"a":3.8,"b":2.8,"c":3.4,"s":4.45},{"g":10,"d":107,"a":3.4,"b":2.5,"c":3.0,"s":4.3},{"g":10,"d":109,"a":2.0,"b":2.2,"c":2.1,"s":3.0},{"g":10,"d":111,"a":1.3,"b":1.5,"c":1.4,"s":1.3},
    {"g":11,"d":121,"a":0.8,"b":0.7,"c":0.8,"s":0.7},{"g":11,"d":123,"a":3.75,"b":3.2,"c":3.5,"s":3.8},
    {"g":12,"d":126,"a":5.4,"b":5.4,"c":5.4,"s":5.4},{"g":12,"d":127,"a":3.0,"b":3.0,"c":3.0,"s":3.0},{"g":12,"d":129,"a":5.9,"b":5.7,"c":5.7,"s":5.7},{"g":12,"d":131,"a":2.3,"b":2.3,"c":2.3,"s":2.3},{"g":12,"d":133,"a":4.4,"b":4.3,"c":4.3,"s":4.3},{"g":12,"d":135,"a":2.2,"b":2.2,"c":2.2,"s":2.2},
    {"g":13,"d":136,"a":4.3,"b":4.0,"c":4.0,"s":4.2},{"g":13,"d":138,"a":2.3,"b":2.3,"c":2.3,"s":2.3},
    {"g":14,"d":145,"a":5.5,"b":5.3,"c":5.3,"s":5.3},{"g":14,"d":147,"a":2.0,"b":2.0,"c":2.0,"s":2.0},{"g":14,"d":149,"a":5.3,"b":5.1,"c":5.1,"s":5.1},
    {"g":15,"d":155,"a":5.3,"b":4.6,"c":5.0,"s":5.2},{"g":15,"d":157,"a":5.2,"b":4.4,"c":4.9,"s":4.6},
    {"g":16,"d":163,"a":5.0,"b":4.3,"c":4.8,"s":4.8},{"g":16,"d":165,"a":5.9,"b":4.3,"c":5.5,"s":5.5},{"g":16,"d":167,"a":5.3,"b":4.5,"c":5.1,"s":5.1},{"g":16,"d":169,"a":6.2,"b":4.7,"c":5.9,"s":5.9},{"g":16,"d":171,"a":6.7,"b":5.0,"c":6.4,"s":6.4},{"g":16,"d":173,"a":5.6,"b":5.1,"c":5.4,"s":5.4},{"g":16,"d":175,"a":6.2,"b":4.8,"c":6.0,"s":6.0},{"g":16,"d":177,"a":5.2,"b":4.6,"c":5.0,"s":5.0},
    {"g":17,"d":179,"a":5.5,"b":4.8,"c":5.3,"s":5.3},{"g":17,"d":181,"a":1.9,"b":1.9,"c":1.9,"s":1.9},{"g":17,"d":183,"a":3.9,"b":3.4,"c":3.9,"s":3.9},{"g":17,"d":185,"a":3.3,"b":3.3,"c":3.3,"s":3.3},
    {"g":18,"d":189,"s":5.05},{"g":18,"d":191,"s":1.65},
    {"g":19,"d":280,"a":0.9,"b":0.6,"c":0.9,"s":0.8},{"g":19,"d":282,"a":1.5,"b":1.3,"c":1.6,"s":1.0},{"g":19,"d":284,"a":1.4,"b":1.0,"c":1.8,"s":1.5},{"g":19,"d":286,"a":1.5,"b":1.2,"c":1.4,"s":1.2},{"g":19,"d":288,"a":1.3,"b":1.1,"c":1.5,"s":0.9},{"g":19,"d":290,"a":1.5,"b":1.4,"c":1.6,"s":1.6},{"g":19,"d":292,"a":1.4,"b":1.5,"c":1.5,"s":2.15},{"g":19,"d":294,"a":1.5,"b":1.3,"c":1.5,"s":1.9},{"g":19,"d":296,"a":1.2,"b":0.9,"c":1.2,"s":1.4},{"g":19,"d":298,"a":0.8,"b":0.6,"c":0.9,"s":0.9},
    {"g":19,"d":300,"a":0.5,"b":0.3,"c":0.5,"s":0.6},{"g":19,"d":302,"a":0.4,"b":0.2,"c":0.4,"s":0.9},{"g":19,"d":304,"a":0.5,"b":0.4,"c":0.5,"s":0.3},{"g":19,"d":306,"a":0.4,"b":0.3,"c":0.4,"s":0.5},
    {"g":20,"d":308,"a":0.5,"b":0.4,"c":0.5,"s":0.4},{"g":20,"d":310,"a":0.3,"b":0.3,"c":0.3,"s":0.7},{"g":20,"d":312,"a":0.5,"b":0.4,"c":0.5,"s":0.3},{"g":20,"d":314,"a":0.4,"b":0.3,"c":0.4,"s":0.6},
    {"g":21,"d":316,"a":0.5,"b":0.4,"c":0.5,"s":1.05},{"g":21,"d":318,"a":0.3,"b":0.2,"c":0.3,"s":0.4},{"g":21,"d":320,"a":0.4,"b":0.3,"c":0.4,"s":0.2},{"g":21,"d":322,"a":0.35,"b":0.4,"c":0.4,"s":0.5},{"g":21,"d":324,"a":0.3,"b":0.3,"c":0.3,"s":0.15}
   ]},
   "transform": [{"fold": ["a","b","c","s"], "as": ["k","v"]}],
   "mark": {"type": "line", "strokeJoin": "round", "invalid": "break-paths-show-domains"},
   "encoding": {
    "x": {"field": "d", "type": "quantitative", "axis": null},
    "y": {"field": "v", "type": "quantitative", "axis": null},
    "detail": {"field": "g", "type": "nominal"},
    "color": {"field": "k", "type": "nominal", "scale": {"domain": ["o","a","b","c","s"], "range": ["#c3c3c3","#2fe0e0","#1c1c9c","#f8cfa8","#ff1f1f"]}, "legend": {"title": null, "orient": "none", "legendX": 255, "legendY": -21.5, "labelExpr": "{'o':'Observed','a':'PM-Mu2007','b':'PM-Mu2011','c':'PM-Yuan','s':'sm'}[datum.value]"}},
    "strokeWidth": {"field": "k", "type": "nominal", "scale": {"type": "ordinal", "domain": ["o","a","b","c","s"], "range": [2.2, 4, 2.2, 1.2, 2.8]}, "legend": {"title": null, "orient": "none", "legendX": 255, "legendY": -21.5, "labelExpr": "{'o':'Observed','a':'PM-Mu2007','b':'PM-Mu2011','c':'PM-Yuan','s':'sm'}[datum.value]"}}
   }
  },
  {
   "data": {"values": [{"t": "Walker", "x": 32, "y": 6.85}]},
   "mark": {"type": "text", "align": "left", "baseline": "alphabetic", "fontSize": 30, "font": "Liberation Sans", "color": "#000000"},
   "encoding": {
    "x": {"field": "x", "type": "quantitative", "axis": {"orient": "bottom", "values": [25,75,125,175,225,275,325], "labels": false, "domain": false, "title": null, "tickSize": 3}},
    "y": {"field": "y", "type": "quantitative", "axis": {"orient": "left", "values": [1,3,5,7], "labels": false, "domain": false, "title": null, "tickSize": 3}},
    "text": {"field": "t"}
   }
  }
 ]
}
]
}
